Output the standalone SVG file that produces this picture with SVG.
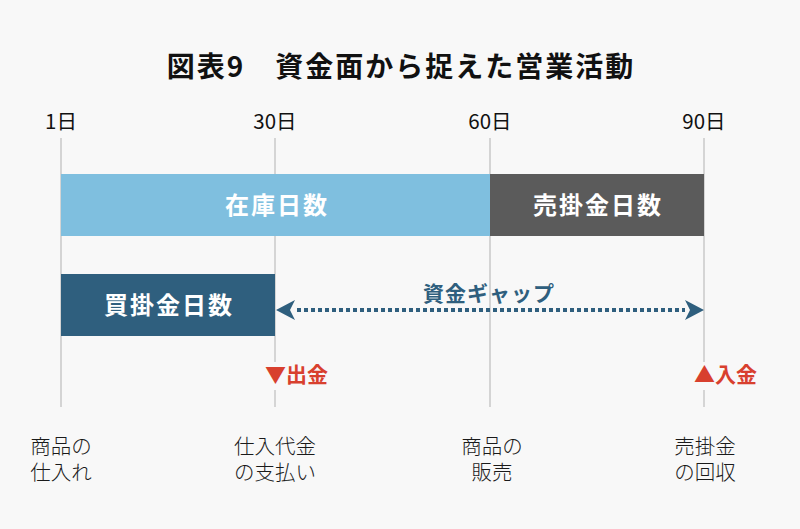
<svg xmlns="http://www.w3.org/2000/svg" width="800" height="529" viewBox="0 0 800 529">
<style>
text{font-family:"Noto Sans CJK JP","Noto Sans",sans-serif;}
.title{font-size:28px;font-weight:700;fill:#111;letter-spacing:2px;}
.day{font-size:20.5px;fill:#111;text-anchor:middle;}
.bar{font-size:24px;font-weight:700;fill:#fff;text-anchor:middle;letter-spacing:2px;}
.gap{font-size:21px;font-weight:700;fill:#2f5f7e;text-anchor:middle;letter-spacing:1px;}
.money{font-size:21px;font-weight:700;fill:#d8402e;}
.ev{font-size:20.5px;font-weight:300;fill:#1a1a1a;text-anchor:middle;}
.vl{stroke:#c9c9c9;stroke-width:1.5;fill:none;}
</style>
<defs>
<path id="ah" d="M0,0 L19,-10 L14,0 L19,10 Z" fill="#2f5f7e"/>
</defs>
<rect width="800" height="529" fill="#f8f8f8"/>
<text class="title" x="401" y="77" text-anchor="middle">図表9　資金面から捉えた営業活動</text>
<g id="axis">
<text class="day" x="61" y="129">1日</text>
<text class="day" x="275" y="129">30日</text>
<text class="day" x="490" y="129">60日</text>
<text class="day" x="704" y="129">90日</text>
<line class="vl" x1="61" y1="138" x2="61" y2="407"/>
<path class="vl" d="M275,138 V362 M275,390 V407"/>
<line class="vl" x1="490" y1="138" x2="490" y2="407"/>
<path class="vl" d="M704,138 V362 M704,390 V407"/>
</g>
<g id="zaiko">
<rect x="61" y="174" width="429" height="62" fill="#7fbfdf"/>
<text class="bar" x="277" y="214">在庫日数</text>
</g>
<g id="urikake">
<rect x="490" y="174" width="214" height="62" fill="#5b5b5b"/>
<text class="bar" x="598" y="214">売掛金日数</text>
</g>
<g id="kaikake">
<rect x="61" y="274" width="214" height="62" fill="#2f5f7e"/>
<text class="bar" x="169" y="314">買掛金日数</text>
</g>
<g id="connectors">
<line x1="297" y1="310" x2="685" y2="310" stroke="#2f5f7e" stroke-width="4" stroke-dasharray="4 3"/>
<use href="#ah" transform="translate(276,310)"/>
<use href="#ah" transform="translate(704,310) scale(-1,1)"/>
</g>
<g id="gap">
<text class="gap" x="489" y="301">資金ギャップ</text>
</g>
<g id="shukkin">
<text class="money" x="265" y="382">▼出金</text>
</g>
<g id="nyukin">
<text class="money" x="694" y="382">▲入金</text>
</g>
<g id="events">
<text class="ev" x="61" y="454">商品の</text>
<text class="ev" x="61" y="480">仕入れ</text>
<text class="ev" x="275" y="454">仕入代金</text>
<text class="ev" x="275" y="480">の支払い</text>
<text class="ev" x="492" y="454">商品の</text>
<text class="ev" x="492" y="480">販売</text>
<text class="ev" x="705" y="454">売掛金</text>
<text class="ev" x="705" y="480">の回収</text>
</g>
</svg>
